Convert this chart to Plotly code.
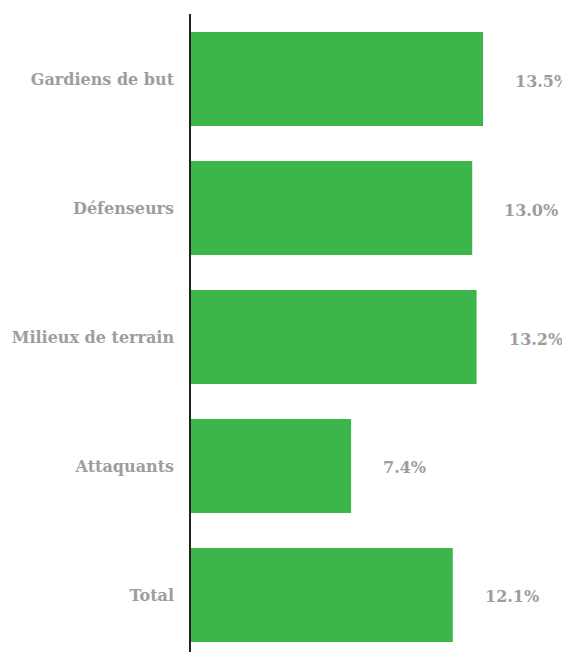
import plotly.graph_objects as go

categories = ["Gardiens de but", "Défenseurs", "Milieux de terrain", "Attaquants", "Total"]
values = [13.5, 13.0, 13.2, 7.4, 12.1]
value_labels = ["13.5%", "13.0%", "13.2%", "7.4%", "12.1%"]

FONT = "DejaVu Serif"
GREY = "#9d9d9f"
GREEN = "#3cb54a"

fig = go.Figure()
fig.add_trace(go.Bar(
    x=values, y=categories, orientation="h",
    marker=dict(color=GREEN, line=dict(width=0)),
    width=0.729, hoverinfo="skip",
))

for c, v, t in zip(categories, values, value_labels):
    fig.add_annotation(x=v, y=c, text="<b>%s</b>" % t, showarrow=False,
                       xanchor="left", xshift=30, yshift=-2,
                       font=dict(family=FONT, size=16, color=GREY))

fig.update_layout(
    width=562, height=644,
    margin=dict(l=183, r=0, t=6, b=0, autoexpand=False),
    paper_bgcolor="white", plot_bgcolor="white",
    showlegend=False,
    font=dict(family=FONT),
    xaxis=dict(range=[0, 17.52], visible=False, fixedrange=True),
    yaxis=dict(
        categoryorder="array", categoryarray=categories,
        range=[4.442, -0.504], automargin=False,
        showline=True, linecolor="#222222", linewidth=1.5,
        showgrid=False, zeroline=False, ticks="",
        ticklabelstandoff=12,
        tickfont=dict(family=FONT, size=16, color=GREY, weight="bold"),
    ),
)

fig.write_html("out.html")
